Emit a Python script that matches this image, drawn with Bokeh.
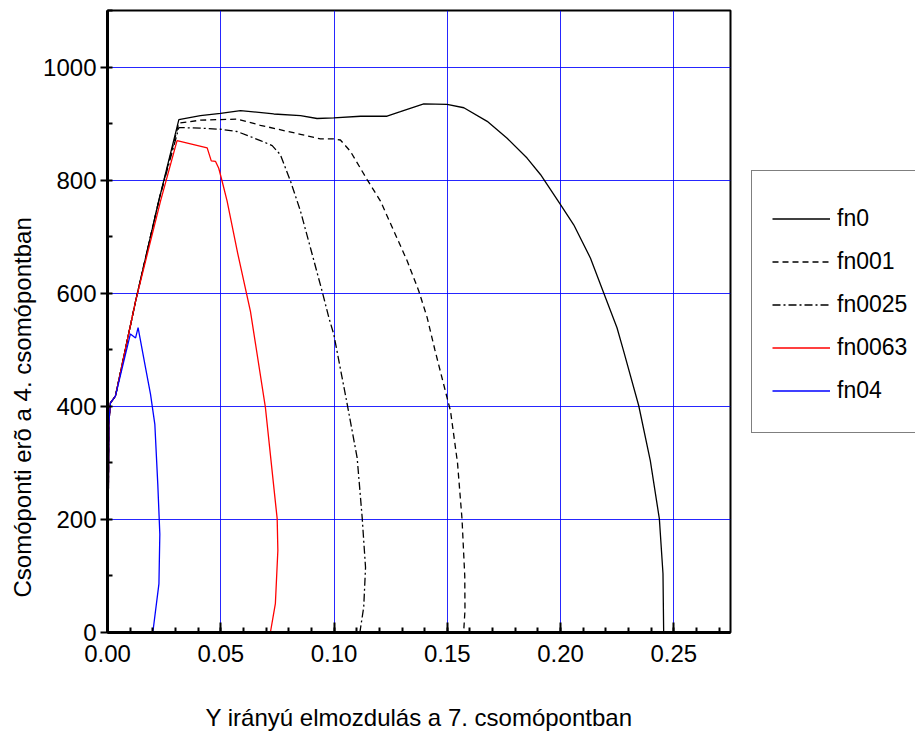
from bokeh.plotting import figure
from bokeh.models import (Range1d, SingleIntervalTicker, NumeralTickFormatter,
                          Legend, LegendItem, Title)
from bokeh.embed import file_html
from bokeh.resources import INLINE

# ---- data ----
fn0_x = [0, 0.0003, 0.0006, 0.0013, 0.0035, 0.0124, 0.0226, 0.0315, 0.041, 0.0499, 0.0587,
         0.0734, 0.0852, 0.0925, 0.0999, 0.1117, 0.1234, 0.1293, 0.1396, 0.1499, 0.1573,
         0.1676, 0.1764, 0.1852, 0.1911, 0.1999, 0.2058, 0.2132, 0.219, 0.2249, 0.2278,
         0.2345, 0.2396, 0.2436, 0.2452, 0.2455]
fn0_y = [0, 200, 370, 406, 418, 586, 763, 907, 914, 918, 923, 917, 914, 909, 910, 913, 913,
         921, 935, 934, 928, 904, 874, 839, 810, 757, 721, 662, 601, 539, 498, 401, 304,
         201, 104, 0]

fn001_x = [0, 0.0003, 0.0006, 0.0013, 0.0035, 0.0124, 0.0226, 0.0315, 0.041, 0.0572, 0.0675,
           0.0852, 0.094, 0.0999, 0.1028, 0.1072, 0.1146, 0.1205, 0.1264, 0.1323, 0.1374,
           0.1411, 0.1445, 0.1499, 0.1514, 0.1545, 0.1565, 0.1577, 0.1578, 0.1572]
fn001_y = [0, 200, 370, 406, 418, 586, 763, 901, 906, 908, 897, 881, 873, 873, 871, 851, 801,
           763, 710, 657, 604, 557, 500, 415, 392, 300, 200, 100, 40, 0]

fn0025_x = [0, 0.0003, 0.0006, 0.0013, 0.0035, 0.0124, 0.0226, 0.0315, 0.041, 0.0499, 0.0572,
            0.0675, 0.0727, 0.0763, 0.0808, 0.0852, 0.0896, 0.0947, 0.0977, 0.0999, 0.1058,
            0.1102, 0.1124, 0.1139, 0.1131, 0.1114]
fn0025_y = [0, 200, 370, 406, 418, 586, 763, 893, 892, 890, 886, 870, 861, 845, 798, 745, 680,
            604, 557, 527, 404, 309, 204, 115, 45, 0]

fn0063_x = [0, 0.0003, 0.0006, 0.0013, 0.0035, 0.0124, 0.0234, 0.0307, 0.044, 0.0458, 0.0477,
            0.0491, 0.0506, 0.0528, 0.0575, 0.0631, 0.0697, 0.0749, 0.0752, 0.0741, 0.0719]
fn0063_y = [0, 200, 370, 406, 418, 586, 763, 870, 857, 834, 833, 821, 798, 763, 670, 568, 398,
            201, 145, 51, 0]

fn04_x = [0, 0.0003, 0.0006, 0.0013, 0.0035, 0.0101, 0.0124, 0.0135, 0.0168, 0.019, 0.0209,
          0.0222, 0.0231, 0.0227, 0.02]
fn04_y = [0, 200, 370, 406, 418, 528, 521, 539, 468, 421, 368, 262, 174, 86, 0]

series_names = ["fn0", "fn001", "fn0025", "fn0063", "fn04"]
x_label = "Y irányú elmozdulás a 7. csomópontban"
y_label = "Csomóponti erõ a 4. csomópontban"

FONT = "Liberation Sans"

p = figure(frame_width=623, frame_height=622,
           min_border_left=107, min_border_right=185, min_border_top=10, min_border_bottom=99,
           x_range=Range1d(0, 0.275), y_range=Range1d(0, 1100),
           output_backend="svg", toolbar_location=None,
           background_fill_color="white", border_fill_color="white")

p.outline_line_color = "black"
p.outline_line_width = 2

# axes
p.xaxis.ticker = SingleIntervalTicker(interval=0.05, num_minor_ticks=5)
p.yaxis.ticker = SingleIntervalTicker(interval=200, num_minor_ticks=2)
p.xaxis.formatter = NumeralTickFormatter(format="0.00")
for ax in (p.xaxis[0], p.yaxis[0]):
    ax.axis_line_width = 3
    ax.axis_line_color = "black"
    ax.major_tick_line_width = 2
    ax.minor_tick_line_width = 2
    ax.major_tick_line_color = "black"
    ax.minor_tick_line_color = "black"
    ax.major_label_text_font = FONT
    ax.major_label_text_font_size = "24px"
    ax.major_label_text_color = "black"

p.xaxis.major_tick_in = 10
p.xaxis.major_tick_out = 0
p.xaxis.minor_tick_in = 5
p.xaxis.minor_tick_out = 0
p.xaxis.major_label_standoff = 12
p.xaxis.axis_label = x_label
p.xaxis.axis_label_text_font = FONT
p.xaxis.axis_label_text_font_size = "24px"
p.xaxis.axis_label_text_font_style = "normal"
p.xaxis.axis_label_text_color = "black"
p.xaxis.axis_label_standoff = 39

p.yaxis.major_tick_in = 0
p.yaxis.major_tick_out = 7
p.yaxis.minor_tick_in = 5
p.yaxis.minor_tick_out = 0
p.yaxis.major_label_standoff = 4

# grid
p.xgrid.ticker = p.xaxis[0].ticker
p.ygrid.ticker = p.yaxis[0].ticker
for g in (p.xgrid[0], p.ygrid[0]):
    g.grid_line_color = "#0000ff"
    g.grid_line_width = 1
    g.grid_line_alpha = 0.85

# lines
r0 = p.line(fn0_x, fn0_y, line_color="black", line_width=1.3)
r1 = p.line(fn001_x, fn001_y, line_color="black", line_width=1.3, line_dash="6 4")
r2 = p.line(fn0025_x, fn0025_y, line_color="black", line_width=1.3, line_dash="8 3 2 3")
r3 = p.line(fn0063_x, fn0063_y, line_color="#ff0000", line_width=1.3)
r4 = p.line(fn04_x, fn04_y, line_color="#0000ff", line_width=1.3)

legend = Legend(items=[LegendItem(label=n, renderers=[r]) for n, r in
                       zip(series_names, [r0, r1, r2, r3, r4])],
                location=(21, 199), margin=0, padding=20, spacing=0,
                title=" ", title_text_font_size="1px", title_standoff=5,
                glyph_width=58, glyph_height=43, label_height=43, label_standoff=7,
                label_text_font=FONT, label_text_font_size="23px",
                label_text_color="black",
                border_line_color="black", border_line_width=1,
                background_fill_color="white", background_fill_alpha=1)
p.add_layout(legend, "right")

ytitle = Title(text=y_label, align="left", offset=35,
               text_font=FONT, text_font_size="24px", text_font_style="normal",
               text_color="black")
p.add_layout(ytitle, "left")

open("out.html", "w").write(file_html(p, INLINE))
